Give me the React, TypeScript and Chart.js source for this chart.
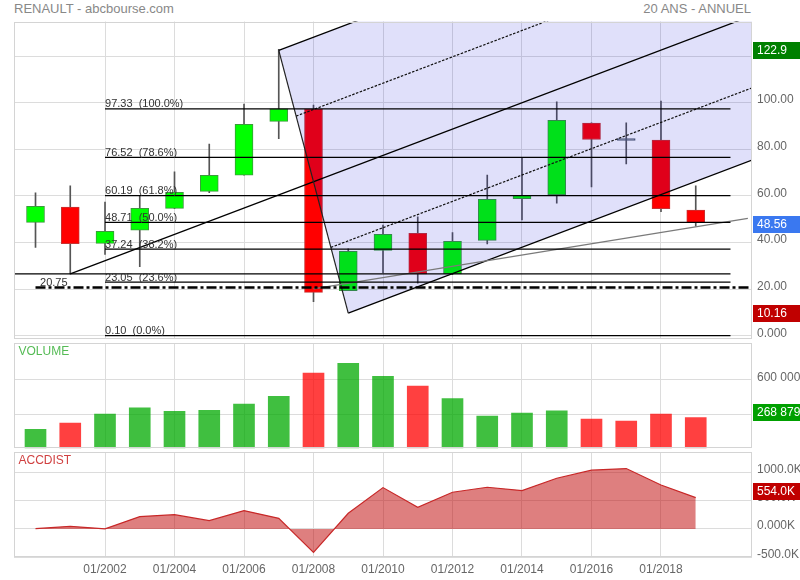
import React, { useEffect, useRef } from "react";
import { Chart, registerables } from "chart.js";

Chart.register(...registerables);

const FONT = '"Liberation Sans", Arial, Helvetica, sans-serif';

// ---------- data ----------
const years = [2000, 2001, 2002, 2003, 2004, 2005, 2006, 2007, 2008, 2009, 2010, 2011, 2012, 2013, 2014, 2015, 2016, 2017, 2018, 2019];
const opens = [48.7, 55.2, 39.7, 45.3, 54.7, 62.0, 68.9, 92.0, 97.3, 19.4, 36.7, 44.0, 26.6, 41.0, 58.9, 60.6, 91.3, 84.0, 84.0, 54.0];
const closes = [55.6, 39.6, 44.9, 54.7, 61.6, 68.9, 90.7, 97.33, 18.7, 36.3, 43.6, 26.6, 40.6, 58.6, 60.3, 92.4, 84.2, 83.8, 54.6, 48.56];
const highs = [61.3, 64.3, 57.4, 60.0, 70.4, 82.3, 99.4, 122.9, 99.0, 37.3, 47.5, 51.1, 44.3, 69.0, 76.4, 100.4, 91.4, 91.4, 100.7, 64.3];
const lows = [37.9, 26.6, 35.0, 29.7, 54.6, 61.4, 68.9, 84.6, 14.7, 19.4, 27.1, 22.6, 26.3, 39.4, 49.7, 56.9, 63.9, 73.7, 53.3, 47.1];

const volumes = [166000, 221000, 300000, 356000, 324000, 332000, 388000, 455000, 659000, 746000, 632000, 545000, 437000, 283000, 309000, 329000, 256000, 239000, 300000, 268879];
const accdist = [5000, 47000, 3000, 218000, 253000, 147000, 324000, 188000, -412000, 277000, 730000, 383000, 648000, 736000, 677000, 895000, 1037000, 1066000, 777000, 554000];

const fibLevels = [97.33, 76.52, 60.19, 48.71, 37.24, 23.05, 0.1];
const fibPercents = ["100.0%", "78.6%", "61.8%", "50.0%", "38.2%", "23.6%", "0.0%"];
const fibStart = 2002;
const fibEnd = 2020;

// Andrews pitchfork anchors: handle, high, low
const pitchX = [2001, 2007, 2009];
const pitchY = [26.6, 122.4, 9.8];

const supportLevel = 26.6;
const markLevel = 20.75;
const trendX = [2008, 2020.5];
const trendY = [20.2, 50.4];

const highBoxValue = 122.9;
const lowBoxValue = 10.16;

const gridYears = [2002, 2004, 2006, 2008, 2010, 2012, 2014, 2016, 2018];
const priceTicks = [0, 20, 40, 60, 80, 100, 120];
const volumeTicks = [300000, 600000];
const accTicks = [-500000, 0, 500000, 1000000];

// ---------- layout constants ----------
const X_MIN = 1999.381;
const X_MAX = 2020.619;
const GRID = "#dcdcdc";
const AXIS_W = 48;

const fmtThousands = (v: number) => Math.round(v).toString().replace(/\B(?=(\d{3})+(?!\d))/g, " ");

function xScale(showLabels: boolean, height: number) {
  return {
    type: "linear",
    min: X_MIN,
    max: X_MAX,
    offset: false,
    afterBuildTicks: (s: any) => {
      s.ticks = gridYears.map((v) => ({ value: v }));
    },
    grid: { color: GRID, drawTicks: false, lineWidth: 1, offset: false },
    border: { display: false },
    ticks: {
      display: showLabels,
      autoSkip: false,
      maxRotation: 0,
      padding: 5,
      color: "#666",
      font: { family: FONT, size: 12 },
      callback: (v: any) => "01/" + v,
    },
    afterFit: (s: any) => {
      s.height = height;
      s.paddingLeft = 0;
      s.paddingRight = 0;
    },
  };
}

function yScale(min: number, max: number, ticks: number[], fmt: (v: number) => string, labelOffset: number) {
  return {
    type: "linear",
    position: "right",
    min,
    max,
    afterBuildTicks: (s: any) => {
      s.ticks = ticks.map((v) => ({ value: v }));
    },
    grid: { color: GRID, drawTicks: false, lineWidth: 1, offset: false },
    border: { display: false },
    ticks: {
      padding: 5,
      labelOffset,
      color: "#666",
      font: { family: FONT, size: 12 },
      callback: (v: any) => fmt(Number(v)),
    },
    afterFit: (s: any) => {
      s.width = AXIS_W;
      s.paddingTop = 0;
      s.paddingBottom = 0;
    },
  };
}

type Box = { value: number; text: string; color: string; offset: number };

function framePlugin(boxes: Box[], label?: { text: string; color: string }) {
  return {
    id: "frame",
    afterDraw(chart: any) {
      const { ctx, chartArea: a, scales } = chart;
      ctx.save();
      ctx.strokeStyle = "#d4d4d4";
      ctx.lineWidth = 1;
      ctx.strokeRect(Math.round(a.left) + 0.5, Math.round(a.top) + 0.5, Math.round(a.right - a.left) - 1, Math.round(a.bottom - a.top) - 1);
      if (label) {
        ctx.font = `12px ${FONT}`;
        ctx.fillStyle = label.color;
        ctx.textBaseline = "middle";
        ctx.textAlign = "left";
        ctx.fillText(label.text, a.left + 4.5, a.top + 8);
      }
      boxes.forEach((b) => {
        const cy = scales.y.getPixelForValue(b.value) + b.offset;
        const x0 = a.right + 1;
        ctx.fillStyle = b.color;
        ctx.fillRect(x0, Math.round(cy - 8.5), 800 - x0, 17);
        ctx.fillStyle = "#fff";
        ctx.font = `12px ${FONT}`;
        ctx.textBaseline = "middle";
        ctx.textAlign = "left";
        ctx.fillText(b.text, a.right + 5, Math.round(cy - 8.5) + 9);
      });
      ctx.restore();
    },
  };
}

function mainConfig() {
  const midX = (pitchX[1] + pitchX[2]) / 2;
  const midY = (pitchY[1] + pitchY[2]) / 2;
  const slope = (midY - pitchY[0]) / (midX - pitchX[0]);
  const toEnd = (x0: number, y0: number) => [
    { x: x0, y: y0 },
    { x: X_MAX, y: y0 + slope * (X_MAX - x0) },
  ];
  const onEdge = (f: number) => ({
    x: pitchX[1] + f * (pitchX[2] - pitchX[1]),
    y: pitchY[1] + f * (pitchY[2] - pitchY[1]),
  });
  const lineDs = (data: any[], extra: any = {}) => ({
    type: "line",
    data,
    borderColor: "#000",
    borderWidth: 1.2,
    pointRadius: 0,
    fill: false,
    tension: 0,
    order: 1,
    ...extra,
  });

  const upper = toEnd(pitchX[1], pitchY[1]);
  const lower = toEnd(pitchX[2], pitchY[2]);
  const q25 = onEdge(0.25);
  const q75 = onEdge(0.75);

  const isDoji = (i: number) => Math.abs(closes[i] - opens[i]) < 0.5;
  const bodyBg = years.map((_, i) => (isDoji(i) ? "#55606f" : closes[i] >= opens[i] ? "#00ff00" : "#ff0000"));
  const bodyBorder = years.map((_, i) => (isDoji(i) ? "#55606f" : closes[i] >= opens[i] ? "#3c9a3c" : "#c83232"));

  const datasets: any[] = [
    ...fibLevels.map((v) =>
      lineDs(
        [
          { x: fibStart, y: v },
          { x: fibEnd, y: v },
        ],
        { borderWidth: 1.3 }
      )
    ),
    lineDs(
      [
        { x: X_MIN, y: supportLevel },
        { x: fibEnd, y: supportLevel },
      ],
      { borderWidth: 1.2 }
    ),
    lineDs(
      [
        { x: 2000, y: markLevel },
        { x: X_MAX, y: markLevel },
      ],
      { borderWidth: 2.6, borderDash: [10, 3, 3, 3] }
    ),
    lineDs(
      [
        { x: trendX[0], y: trendY[0] },
        { x: trendX[1], y: trendY[1] },
      ],
      { borderColor: "#7a7a7a", borderWidth: 1.2 }
    ),
    // pitchfork
    lineDs(
      [
        { x: pitchX[1], y: pitchY[1] },
        { x: pitchX[2], y: pitchY[2] },
      ],
      { borderColor: "#222", borderWidth: 1.2 }
    ),
    lineDs(upper, { borderWidth: 1.3 }),
    lineDs(lower, { borderWidth: 1.3 }),
    lineDs(toEnd(pitchX[0], pitchY[0]), { borderWidth: 1.3 }),
    lineDs(toEnd(q25.x, q25.y), { borderWidth: 1.2, borderDash: [2.5, 1.5], borderColor: "#111" }),
    lineDs(toEnd(q75.x, q75.y), { borderWidth: 1.2, borderDash: [2.5, 1.5], borderColor: "#111" }),
    {
      type: "line",
      data: [upper[0], upper[1], lower[1], lower[0], upper[0]],
      fill: "shape",
      backgroundColor: "rgba(0,0,210,0.12)",
      borderColor: "rgba(0,0,0,0)",
      borderWidth: 1,
      pointRadius: 0,
      tension: 0,
      order: 3,
    },
    {
      type: "bar",
      data: years.map((yr, i) => ({ x: yr, y: [opens[i], closes[i]] })),
      backgroundColor: bodyBg,
      borderColor: bodyBorder,
      borderWidth: 1,
      borderSkipped: false,
      barThickness: 18,
      minBarLength: 2,
      grouped: false,
      order: 5,
    },
    {
      type: "bar",
      data: years.map((yr, i) => ({ x: yr, y: [lows[i], highs[i]] })),
      backgroundColor: "#555",
      borderWidth: 0,
      barThickness: 1,
      grouped: false,
      order: 6,
    },
  ];

  const labels = {
    id: "fibLabels",
    afterDatasetsDraw(chart: any) {
      const { ctx, scales } = chart;
      const { x, y } = scales;
      ctx.save();
      ctx.font = `11px ${FONT}`;
      ctx.fillStyle = "#333";
      ctx.textAlign = "left";
      ctx.textBaseline = "alphabetic";
      fibLevels.forEach((v, i) => {
        ctx.fillText(`${v.toFixed(2)}  (${fibPercents[i]})`, x.getPixelForValue(fibStart), y.getPixelForValue(v) - 1.5);
      });
      ctx.fillText(markLevel.toFixed(2), x.getPixelForValue(2000) + 4.5, y.getPixelForValue(markLevel) - 1.8);
      ctx.restore();
    },
  };

  const last = closes[closes.length - 1];
  return {
    type: "line",
    data: { datasets },
    options: {
      responsive: false,
      animation: false,
      events: [],
      layout: { padding: { left: 14, right: 0, top: 21.5, bottom: 2.5 } },
      plugins: { legend: { display: false }, tooltip: { enabled: false } },
      scales: {
        x: xScale(false, 0),
        y: yScale(-1.09, 134.79, priceTicks, (v) => (v === 0 ? "0.000" : v.toFixed(2)), -2.5),
      },
    },
    plugins: [
      labels,
      framePlugin([
        { value: highBoxValue, text: highBoxValue.toFixed(1), color: "#008000", offset: 1.5 },
        { value: last, text: last.toFixed(2), color: "#3a78f0", offset: 1.5 },
        { value: lowBoxValue, text: lowBoxValue.toFixed(2), color: "#c00000", offset: 1.5 },
      ]),
    ],
  };
}

function volumeConfig() {
  const colors = years.map((_, i) => (closes[i] < opens[i] ? "rgba(255,0,0,0.75)" : "rgba(0,170,0,0.75)"));
  const lastV = volumes[volumes.length - 1];
  return {
    type: "line",
    data: {
      datasets: [
        {
          type: "bar",
          data: years.map((yr, i) => ({ x: yr, y: volumes[i] })),
          backgroundColor: colors,
          borderWidth: 0,
          barThickness: 21,
          grouped: false,
        },
      ],
    },
    options: {
      responsive: false,
      animation: false,
      events: [],
      layout: { padding: { left: 14, right: 0, top: 2.3, bottom: 1.7 } },
      plugins: { legend: { display: false }, tooltip: { enabled: false } },
      scales: {
        x: xScale(false, 0),
        y: yScale(0, 921000, volumeTicks, fmtThousands, -2.5),
      },
    },
    plugins: [framePlugin([{ value: lastV, text: fmtThousands(lastV), color: "#00a000", offset: -5 }], { text: "VOLUME", color: "#55bb55" })],
  };
}

function accConfig() {
  const lastA = accdist[accdist.length - 1];
  const fmtK = (v: number) => (v === 0 ? "0.000K" : (v / 1000).toFixed(1) + "K");
  return {
    type: "line",
    data: {
      datasets: [
        {
          type: "line",
          data: years.map((yr, i) => ({ x: yr, y: accdist[i] })),
          borderColor: "#c82828",
          borderWidth: 1.2,
          backgroundColor: "rgba(190,0,0,0.5)",
          fill: "origin",
          pointRadius: 0,
          tension: 0,
        },
      ],
    },
    options: {
      responsive: false,
      animation: false,
      events: [],
      layout: { padding: { left: 14, right: 0, top: 2.3, bottom: 0 } },
      plugins: { legend: { display: false }, tooltip: { enabled: false } },
      scales: {
        x: xScale(true, 22.7),
        y: yScale(-500000, 1353000, accTicks, fmtK, -3),
      },
    },
    plugins: [framePlugin([{ value: lastA, text: fmtK(lastA), color: "#c00000", offset: -6 }], { text: "ACCDIST", color: "#d04040" })],
  };
}

function ChartCanvas({ top, height, build }: { top: number; height: number; build: () => any }) {
  const ref = useRef<HTMLCanvasElement>(null);
  useEffect(() => {
    const canvas = ref.current;
    if (!canvas) return;
    const chart = new Chart(canvas, build());
    return () => chart.destroy();
  }, []);
  return (
    <canvas
      ref={ref}
      width={800}
      height={height}
      style={{ position: "absolute", left: 0, top, width: 800, height, display: "block" }}
    />
  );
}

export default function App() {
  return (
    <div
      style={{
        position: "fixed",
        left: 0,
        top: 0,
        width: 800,
        height: 580,
        background: "#fff",
        overflow: "hidden",
        fontFamily: FONT,
      }}
    >
      <div style={{ position: "absolute", left: 14, top: 1, fontSize: 13, lineHeight: "15px", color: "#888", whiteSpace: "nowrap" }}>
        RENAULT - abcbourse.com
      </div>
      <div style={{ position: "absolute", right: 49, top: 1, fontSize: 13, lineHeight: "15px", color: "#888", whiteSpace: "nowrap" }}>
        20 ANS - ANNUEL
      </div>
      <ChartCanvas top={0} height={341} build={mainConfig} />
      <ChartCanvas top={341} height={109} build={volumeConfig} />
      <ChartCanvas top={450} height={130} build={accConfig} />
    </div>
  );
}
